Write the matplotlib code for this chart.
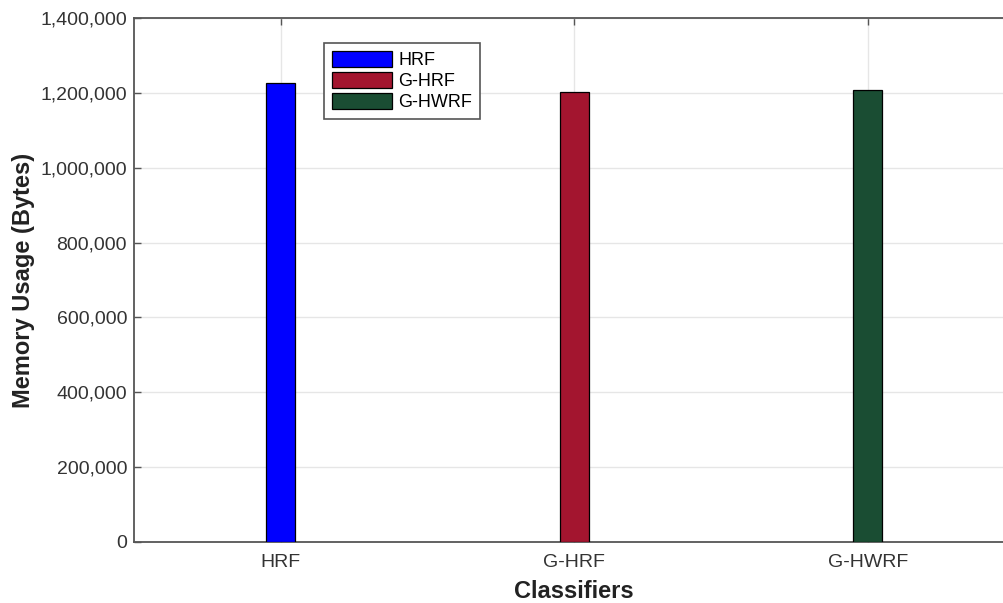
import matplotlib
matplotlib.use("Agg")
import matplotlib.pyplot as plt
from matplotlib.ticker import FuncFormatter

plt.rcParams['font.family'] = ['Liberation Sans', 'DejaVu Sans']

classifiers = ["HRF", "G-HRF", "G-HWRF"]
memory_bytes = [1226000, 1202000, 1207000]
bar_colors = ["#0000ff", "#a3152f", "#1a4d33"]
y_ticks = [0, 200000, 400000, 600000, 800000, 1000000, 1200000, 1400000]

fig = plt.figure(figsize=(10.04, 6.03), dpi=100)
ax = fig.add_axes([0.1335, 0.1012, 0.877, 0.869])

positions = list(range(1, len(classifiers) + 1))
for pos, val, col, name in zip(positions, memory_bytes, bar_colors, classifiers):
    ax.bar(pos, val, width=0.1, color=col, edgecolor="black", linewidth=0.9,
           label=name, zorder=3)

ax.set_xlim(0.5, 3.5)
ax.set_ylim(0, 1400000)
ax.set_xticks(positions)
ax.set_xticklabels(classifiers)
ax.set_yticks(y_ticks)
ax.yaxis.set_major_formatter(FuncFormatter(lambda v, p: f"{int(v):,}"))

ax.grid(True, color="#e6e6e6", linewidth=1.0, zorder=0)
ax.set_axisbelow(True)
for side in ["left", "bottom", "top", "right"]:
    ax.spines[side].set_color("#555555")
    ax.spines[side].set_linewidth(1.3)
ax.tick_params(direction="in", length=5, width=1, color="#555555",
               labelcolor="#333333", labelsize=14, top=True, right=True)
ax.tick_params(axis="y", pad=5)
ax.tick_params(axis="x", pad=9)

ax.set_xlabel("Classifiers", fontsize=17, fontweight="bold", color="#222222", labelpad=6)
ax.set_ylabel("Memory Usage (Bytes)", fontsize=17, fontweight="bold", color="#222222", labelpad=4)

leg = ax.legend(loc="upper left", bbox_to_anchor=(0.216, 0.953), fontsize=13,
                handlelength=3.3, handleheight=1.0, handletextpad=0.35,
                labelspacing=0.15, borderpad=0.45, borderaxespad=0.0,
                fancybox=False, edgecolor="#555555", framealpha=1.0)
leg.get_frame().set_linewidth(1.2)

fig.savefig("out.png", dpi=100)
